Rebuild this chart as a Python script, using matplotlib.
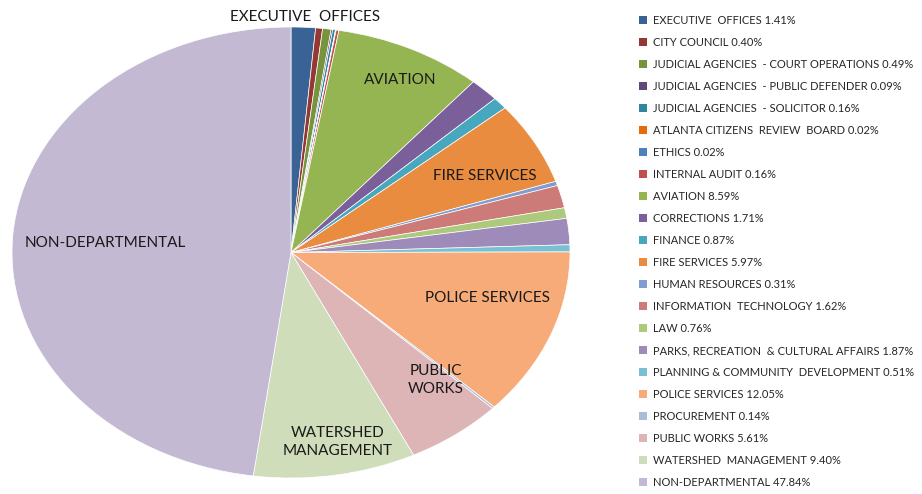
import matplotlib

matplotlib.use("Agg")
import matplotlib.pyplot as plt
from matplotlib.patches import Patch

departments = [
    "EXECUTIVE  OFFICES", "CITY COUNCIL", "JUDICIAL AGENCIES  - COURT OPERATIONS",
    "JUDICIAL AGENCIES  - PUBLIC DEFENDER", "JUDICIAL AGENCIES  - SOLICITOR",
    "ATLANTA CITIZENS  REVIEW  BOARD", "ETHICS", "INTERNAL AUDIT", "AVIATION",
    "CORRECTIONS", "FINANCE", "FIRE SERVICES", "HUMAN RESOURCES",
    "INFORMATION  TECHNOLOGY", "LAW", "PARKS, RECREATION  & CULTURAL AFFAIRS",
    "PLANNING & COMMUNITY  DEVELOPMENT", "POLICE SERVICES", "PROCUREMENT",
    "PUBLIC WORKS", "WATERSHED  MANAGEMENT", "NON-DEPARTMENTAL",
]
shares = [1.41, 0.40, 0.49, 0.09, 0.16, 0.02, 0.02, 0.16, 8.59, 1.71, 0.87,
          5.97, 0.31, 1.62, 0.76, 1.87, 0.51, 12.05, 0.14, 5.61, 9.40, 47.84]
colors = ["#3a6395", "#953735", "#77933c", "#5f497a", "#31859c", "#e46c0a",
          "#4f81bd", "#c0504d", "#95b553", "#7a5f9a", "#46a7bf", "#e98c3f",
          "#7f9dd0", "#cd7b79", "#adc97c", "#9e8bba", "#79c0d2", "#f7ab78",
          "#a9bcdd", "#ddb5b6", "#cfddba", "#c3b9d3"]

# in-slice captions: text, (x, y) in pie units
captions = [
    ("EXECUTIVE  OFFICES", 0.05, 1.044),
    ("AVIATION", 0.39, 0.764),
    ("FIRE SERVICES", 0.695, 0.338),
    ("POLICE SERVICES", 0.706, -0.20),
    ("PUBLIC\nWORKS", 0.52, -0.565),
    ("WATERSHED\nMANAGEMENT", 0.168, -0.84),
    ("NON-DEPARTMENTAL", -0.667, 0.044),
]

plt.rcParams["font.family"] = ["Lato", "DejaVu Sans"]

fig = plt.figure(figsize=(9.22, 4.94), dpi=100)
ax = fig.add_axes([12 / 922, 16 / 494, 558 / 922, 451 / 494])
ax.pie(shares, colors=colors, startangle=90, counterclock=False,
       wedgeprops={"edgecolor": "white", "linewidth": 0.5})
ax.set_aspect("auto")
ax.set_xlim(-1, 1)
ax.set_ylim(-1, 1)
for text, x, y in captions:
    ax.text(x, y, text, ha="center", va="center", fontsize=11,
            color="#1a1a1a", linespacing=1.35, clip_on=False)

handles = [Patch(facecolor=c, edgecolor="none") for c in colors]
labels = [f"{d} {s:.2f}%" for d, s in zip(departments, shares)]
fig.legend(handles, labels, loc="upper left", bbox_to_anchor=(639 / 922, 1 - 15 / 494),
           frameon=False, fontsize=8, handlelength=0.75, handleheight=0.75,
           handletextpad=0.5, labelspacing=0.99, borderaxespad=0, borderpad=0,
           labelcolor="#262626")

fig.savefig("out.png", dpi=100)
